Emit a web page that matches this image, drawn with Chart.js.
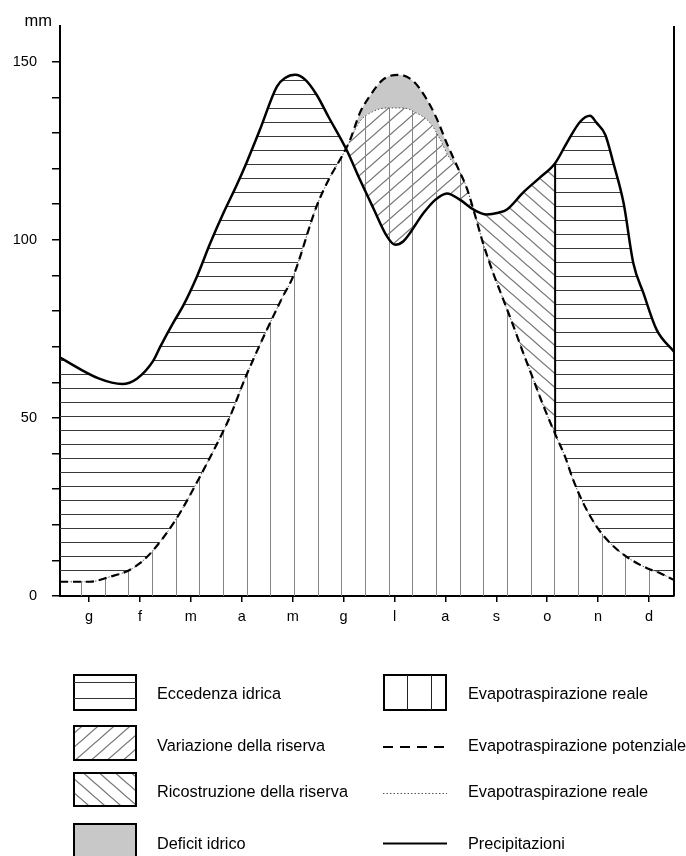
<!DOCTYPE html>
<html>
<head>
<meta charset="utf-8">
<script src="https://cdn.jsdelivr.net/npm/chart.js@4.4.1/dist/chart.umd.min.js"></script>
<style>
  html, body { margin: 0; padding: 0; background: #fff; }
</style>
</head>
<body>
<canvas id="bilancio" width="686" height="856"></canvas>
<script>
// Bilancio idrico: x = mese (0 = gennaio, frazioni ammesse), y = mm
const mesi = ['g', 'f', 'm', 'a', 'm', 'g', 'l', 'a', 's', 'o', 'n', 'd'];

const precipitazioni = [
    [-0.57, 66.9], [0.2, 61], [0.65, 59.5], [0.94, 61], [1.26, 66], [1.4, 70],
    [1.65, 76.6], [1.85, 81.5], [2.12, 89.7], [2.38, 99], [2.64, 107.5], [2.89, 115],
    [3.09, 121.5], [3.36, 131], [3.69, 143], [3.85, 145.4], [4.05, 146.3], [4.24, 145],
    [4.47, 140.7], [4.7, 134.6], [5.06, 125.2], [5.32, 116.9], [5.58, 109], [5.85, 101],
    [6.01, 98.6], [6.17, 99.5], [6.57, 107.5], [6.8, 111.2], [7.03, 113], [7.29, 111.2],
    [7.55, 108.5], [7.81, 107.1], [8.04, 107.6], [8.21, 108.5], [8.53, 113.3], [8.86, 117.5],
    [9.155, 121.5], [9.385, 127.2], [9.65, 133.2], [9.84, 134.8], [9.97, 132.8], [10.14, 129.5],
    [10.3, 121.5], [10.5, 110.3], [10.69, 93.5], [10.89, 85], [11.15, 74.7], [11.49, 68.6]
];

const etPotenziale = [
    [-0.57, 4], [0.02, 4], [0.41, 5.4], [0.77, 7.1], [1.0, 9.2], [1.24, 12.5],
    [1.72, 21.8], [2.16, 33], [2.6, 45.2], [2.77, 50.4], [3.08, 61.6], [3.79, 83.6],
    [4.01, 89.7], [4.47, 109.4], [4.73, 117.5], [4.96, 123.2], [5.13, 128.1], [5.32, 135.6],
    [5.49, 139.8], [5.78, 145], [6.08, 146.3], [6.37, 144.5], [6.63, 139.5], [6.83, 134],
    [7.03, 127], [7.26, 119.7], [7.42, 114.5], [7.55, 108.5], [7.74, 99], [7.94, 90.6],
    [8.14, 83.1], [8.34, 75.6], [8.53, 68.2], [8.73, 60.7], [8.93, 53.2], [9.155, 45.5],
    [9.35, 39.1], [9.51, 32.6], [9.71, 26], [9.97, 19.5], [10.24, 14.8], [10.56, 11],
    [10.96, 7.8], [11.22, 6.4], [11.49, 4.5]
];

// tratto estivo in cui l'evapotraspirazione reale resta sotto la potenziale
const etRealeDeficit = [
    [5.06, 126], [5.13, 128], [5.32, 133.2], [5.58, 136], [5.84, 137], [6.17, 137],
    [6.43, 135.6], [6.7, 132.8], [6.9, 128.1], [7.06, 123.4], [7.26, 119.7]
];

const inizioRicarica = 7.55;  // P torna sopra ETP
const fineRicarica = 9.155;   // riserva piena

const etReale = etPotenziale
    .filter(([x]) => x < etRealeDeficit[0][0] || x > etRealeDeficit[etRealeDeficit.length - 1][0])
    .concat(etRealeDeficit)
    .sort((a, b) => a[0] - b[0]);

const pts = arr => arr.map(([x, y]) => ({ x, y }));
const valoreA = (arr, x) => arr.find(p => p[0] === x)[1];

// Retini
const ctx = document.getElementById('bilancio').getContext('2d');

function retino(w, h, draw) {
    const c = document.createElement('canvas');
    c.width = w;
    c.height = h;
    const g = c.getContext('2d');
    draw(g, w, h);
    return ctx.createPattern(c, 'repeat');
}

const orizzontali = retino(8, 14, (g, w) => {
    g.fillStyle = '#3a3a3a';
    g.fillRect(0, 10, w, 1);
});

const verticali = retino(71, 8, (g, w, h) => {
    g.fillStyle = '#858585';
    [10, 34, 57].forEach(x => g.fillRect(x, 0, 1, h));
});

const tratteggioA = retino(16, 14, (g, w, h) => {
    g.strokeStyle = '#777';
    g.lineWidth = 1.3;
    [0, 1, 2].forEach(n => {
        g.beginPath();
        g.moveTo(-w, h + n * h);
        g.lineTo(2 * w, -2 * h + n * h);
        g.stroke();
    });
});

const tratteggioB = retino(16, 14, (g, w, h) => {
    g.strokeStyle = '#777';
    g.lineWidth = 1.3;
    [-1, 0, 1].forEach(n => {
        g.beginPath();
        g.moveTo(-w, -h + n * h);
        g.lineTo(2 * w, 2 * h + n * h);
        g.stroke();
    });
});

const FONT = '"Liberation Sans", Arial, sans-serif';
const nascosto = 'rgba(0,0,0,0)';

// Legenda, titolo asse e bordo destro
const decorazioni = {
    id: 'decorazioni',
    afterDraw(chart) {
        const { ctx, chartArea: a } = chart;
        ctx.save();
        ctx.strokeStyle = '#000';
        ctx.lineWidth = 2;
        ctx.beginPath();
        ctx.moveTo(a.right, a.top);
        ctx.lineTo(a.right, a.bottom);
        ctx.stroke();

        ctx.fillStyle = '#000';
        ctx.font = '16.5px ' + FONT;
        ctx.textAlign = 'right';
        ctx.textBaseline = 'middle';
        ctx.fillText('mm', 52, 21);

        ctx.font = '16.3px ' + FONT;
        ctx.textAlign = 'left';

        const box = (x, y, h, fill) => {
            if (fill) {
                ctx.fillStyle = fill;
                ctx.fillRect(x, y, 64, h);
            }
            ctx.strokeStyle = '#000';
            ctx.lineWidth = 2;
            ctx.strokeRect(x + 1, y + 1, 62, h - 2);
        };

        // colonna sinistra
        box(73, 674, 37, null);
        ctx.lineWidth = 1;
        ctx.strokeStyle = '#333';
        [682.5, 698.5].forEach(y => {
            ctx.beginPath(); ctx.moveTo(74, y); ctx.lineTo(136, y); ctx.stroke();
        });
        box(73, 725, 36, tratteggioA);
        box(73, 772, 35, tratteggioB);
        box(73, 823, 40, '#c8c8c8');

        ctx.fillStyle = '#000';
        ctx.fillText('Eccedenza idrica', 157, 695);
        ctx.fillText('Variazione della riserva', 157, 747);
        ctx.fillText('Ricostruzione della riserva', 157, 793);
        ctx.fillText('Deficit idrico', 157, 845);

        // colonna destra
        box(383, 674, 37, null);
        ctx.lineWidth = 1;
        ctx.strokeStyle = '#222';
        [407.5, 431.5].forEach(x => {
            ctx.beginPath(); ctx.moveTo(x, 675); ctx.lineTo(x, 710); ctx.stroke();
        });

        ctx.strokeStyle = '#000';
        ctx.lineWidth = 2;
        ctx.setLineDash([10, 7]);
        ctx.beginPath(); ctx.moveTo(383, 747); ctx.lineTo(447, 747); ctx.stroke();

        ctx.lineWidth = 1;
        ctx.strokeStyle = '#555';
        ctx.setLineDash([1.5, 2]);
        ctx.beginPath(); ctx.moveTo(383, 793.5); ctx.lineTo(447, 793.5); ctx.stroke();

        ctx.setLineDash([]);
        ctx.strokeStyle = '#000';
        ctx.lineWidth = 2;
        ctx.beginPath(); ctx.moveTo(383, 843.5); ctx.lineTo(447, 843.5); ctx.stroke();

        ctx.fillStyle = '#000';
        ctx.fillText('Evapotraspirazione reale', 468, 695);
        ctx.fillText('Evapotraspirazione potenziale', 468, 747);
        ctx.fillText('Evapotraspirazione reale', 468, 793);
        ctx.fillText('Precipitazioni', 468, 845);
        ctx.restore();
    }
};

new Chart(ctx, {
    type: 'line',
    data: {
        datasets: [
            {
                label: 'Precipitazioni',
                data: pts(precipitazioni),
                borderColor: '#000',
                borderWidth: 2.5,
                fill: false
            },
            {
                label: 'Evapotraspirazione potenziale',
                data: pts(etPotenziale),
                borderColor: '#000',
                borderWidth: 2.2,
                borderDash: [8, 5],
                fill: { target: 2, above: '#c8c8c8', below: nascosto }
            },
            {
                label: 'Evapotraspirazione reale',
                data: pts(etReale),
                borderColor: '#555',
                borderWidth: 1,
                borderDash: [1.5, 2],
                fill: { target: 'origin', above: verticali, below: nascosto }
            },
            {
                label: 'Eccedenza / variazione',
                data: pts(precipitazioni.filter(([x]) => x <= inizioRicarica)),
                borderColor: nascosto,
                fill: { target: 2, above: orizzontali, below: tratteggioA }
            },
            {
                label: 'Ricostruzione',
                data: pts(precipitazioni.filter(([x]) => x >= inizioRicarica && x <= fineRicarica)),
                borderColor: nascosto,
                fill: { target: 1, above: tratteggioB, below: nascosto }
            },
            {
                label: 'Eccedenza',
                data: pts(precipitazioni.filter(([x]) => x >= fineRicarica)),
                borderColor: nascosto,
                fill: { target: 1, above: orizzontali, below: nascosto }
            },
            {
                label: 'Riserva piena',
                data: [
                    { x: fineRicarica, y: valoreA(precipitazioni, fineRicarica) },
                    { x: fineRicarica, y: valoreA(etPotenziale, fineRicarica) }
                ],
                borderColor: '#000',
                borderWidth: 2,
                cubicInterpolationMode: 'default',
                tension: 0,
                fill: false
            }
        ]
    },
    options: {
        responsive: false,
        animation: false,
        layout: { padding: { left: 0, right: 12, top: 26, bottom: 220 } },
        elements: {
            point: { radius: 0, hoverRadius: 0 },
            line: { cubicInterpolationMode: 'monotone' }
        },
        plugins: {
            legend: { display: false },
            tooltip: { enabled: false },
            filler: { drawTime: 'beforeDatasetsDraw' }
        },
        scales: {
            x: {
                type: 'linear',
                min: -0.57,
                max: 11.49,
                afterFit: s => { s.height = 40; },
                afterBuildTicks: s => { s.ticks = mesi.map((_, i) => ({ value: i })); },
                border: { display: true, color: '#000', width: 2 },
                grid: { drawOnChartArea: false, drawTicks: true, tickLength: 6, color: '#000', lineWidth: 1.5 },
                ticks: {
                    autoSkip: false,
                    maxRotation: 0,
                    padding: 6,
                    color: '#000',
                    font: { family: FONT, size: 14.5 },
                    callback: v => mesi[v]
                }
            },
            y: {
                min: 0,
                max: 160,
                afterFit: s => { s.width = 60; },
                border: { display: true, color: '#000', width: 2 },
                grid: { drawOnChartArea: false, drawTicks: true, tickLength: 8, color: '#000', lineWidth: 1.5 },
                ticks: {
                    stepSize: 10,
                    padding: 15,
                    color: '#000',
                    font: { family: FONT, size: 14.5 },
                    callback: v => (v === 160 ? null : (v % 50 === 0 ? v : ''))
                }
            }
        }
    },
    plugins: [decorazioni]
});
</script>
</body>
</html>
